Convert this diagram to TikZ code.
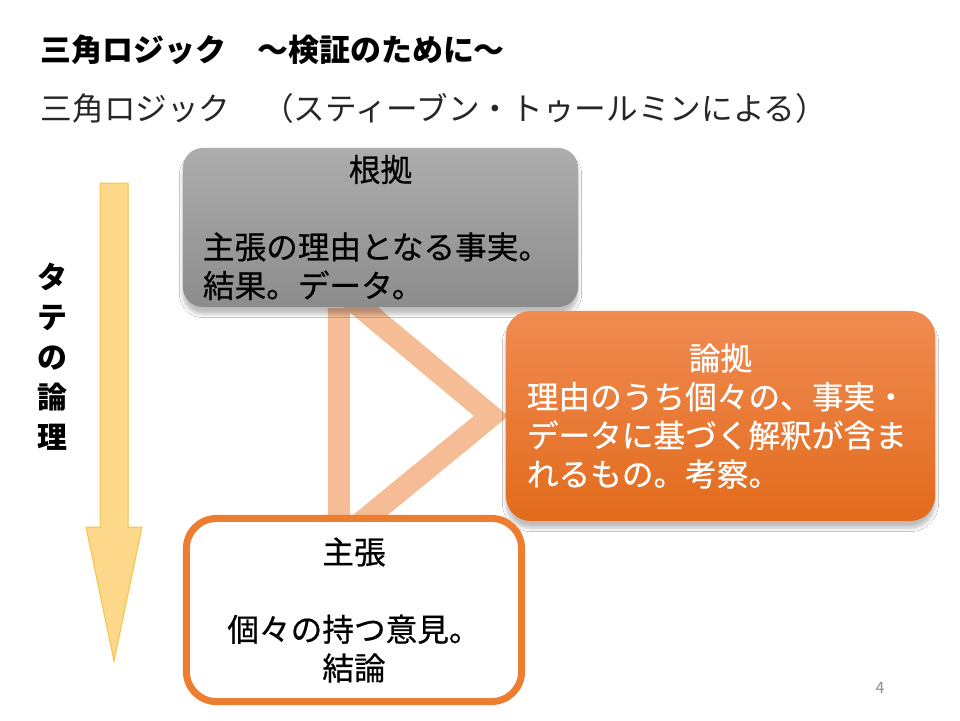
\documentclass[tikz,border=0pt]{standalone}
\usepackage{fontspec}
\setmainfont{Noto Sans CJK JP}
\newfontfamily\boxfamily[FakeBold=0.6]{Noto Sans CJK JP}
\usetikzlibrary{shadows.blur}
\definecolor{graytop}{HTML}{ADADAD}
\definecolor{graybottom}{HTML}{8C8C8C}
\definecolor{orangetop}{HTML}{F08B52}
\definecolor{orangebottom}{HTML}{E26B1C}
\definecolor{accentorange}{HTML}{ED7D31}
\definecolor{peach}{HTML}{F5BC96}
\definecolor{arrowfill}{HTML}{FDD78A}
\definecolor{arrowline}{HTML}{F6C447}
\definecolor{pagegray}{HTML}{8C8C8C}
\pgfdeclarelayer{background}
\pgfsetlayers{background,main}

\tikzset{
  boxfont/.style={font=\boxfamily\fontsize{9pt}{11pt}\selectfont},
  softshadow/.style={blur shadow={shadow blur steps=6, shadow blur radius=1pt, shadow xshift=0pt,
    shadow yshift=-2pt, shadow opacity=25}},
  konkyobox/.style={boxfont, rounded corners=0.2cm, top color=graytop, bottom color=graybottom,
    minimum width=3.95cm, minimum height=1.59cm, text width=3.55cm, inner xsep=0.2cm, inner ysep=0,
    align=left, softshadow},
  ronkyobox/.style={boxfont, rounded corners=0.25cm, top color=orangetop, bottom color=orangebottom,
    text=white, minimum width=4.29cm, minimum height=2.10cm, text width=3.87cm, inner xsep=0.21cm,
    inner ysep=0, align=left, softshadow},
  shuchobox/.style={boxfont, rounded corners=0.3cm, draw=accentorange, line width=0.07cm, fill=white,
    minimum width=3.35cm, minimum height=1.83cm, inner sep=0, align=center},
  link/.style={draw=peach, line width=0.22cm}
}

\begin{document}
\begin{tikzpicture}[x=0.01cm, y=-0.01cm]
  \useasboundingbox (0,0) rectangle (960,720);

  \node[anchor=west, inner sep=0, font=\fontsize{8.8pt}{11pt}\selectfont\bfseries] (title) at (40,50)
    {三角ロジック　～検証のために～};
  \node[anchor=west, inner sep=0, text=black!85, font=\fontsize{9pt}{11pt}\selectfont] (subtitle) at (40,108)
    {三角ロジック　（スティーブン・トゥールミンによる）};

  \fill[arrowfill, draw=arrowline, line width=0.01cm]
    (100,183) -- (128,183) -- (128,527) -- (142,527) -- (114,661) -- (86,527) -- (100,527) -- cycle;
  \node[align=center, inner sep=0, font=\fontsize{8.5pt}{11.4pt}\selectfont\bfseries] (tate) at (52,357)
    {タ\\テ\\の\\論\\理};

  \node[konkyobox] (konkyo) at (380.5,227.5)
    {\makebox[3.55cm]{根拠}\\[11pt]主張の理由となる事実。\\結果。データ。};

  \node[ronkyobox] (ronkyo) at (720.5,416)
    {\makebox[3.87cm]{論拠}\\理由のうち個々の、事実・\\データに基づく解釈が含ま\\れるもの。考察。};

  \node[shuchobox] (shucho) at (354,610)
    {主張\\[11pt]個々の持つ意見。\\結論};

  \node[text=pagegray, inner sep=0, font=\fontsize{4.5pt}{5pt}\selectfont] (pagenum) at (880,688) {4};

  \begin{pgfonlayer}{background}
    \fill[white] (0,0) rectangle (960,720);
    \coordinate (tip) at ([xshift=-0.14cm]ronkyo.west);
    \draw[link] ([xshift=-0.415cm]konkyo.south) -- ([xshift=-0.15cm]shucho.north);
    \draw[link, line join=miter]
      ([xshift=-0.395cm,yshift=0.17cm]konkyo.south) -- (tip) -- ([xshift=-0.08cm,yshift=-0.2cm]shucho.north);
  \end{pgfonlayer}
\end{tikzpicture}
\end{document}
